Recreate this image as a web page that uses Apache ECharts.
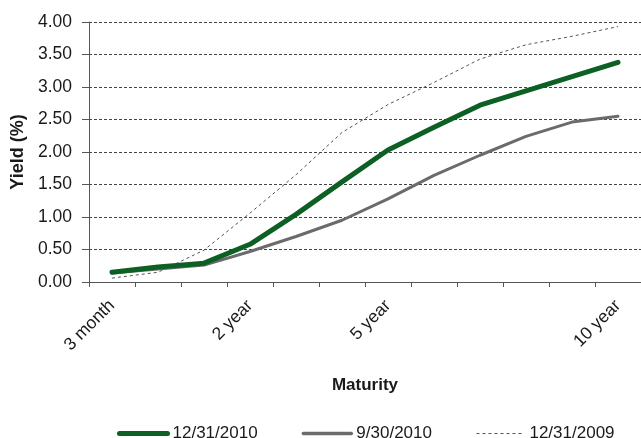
<!DOCTYPE html>
<html>
<head>
<meta charset="utf-8">
<script src="https://cdn.jsdelivr.net/npm/echarts@6/dist/echarts.min.js"></script>
<style>
  html, body { margin: 0; padding: 0; background: #fff; }
  #chart { width: 641px; height: 438px; }
</style>
</head>
<body>
<div id="chart"></div>
<script>
// Treasury maturities along the curve
const maturities = ["3 month", "6 month", "1 year", "2 year", "3 year", "4 year",
                    "5 year", "6 year", "7 year", "8 year", "9 year", "10 year"];
// Maturities that carry a visible axis label
const labelledMaturities = ["3 month", "2 year", "5 year", "10 year"];

// Yields (%) on each date
const yieldsDec2010 = [0.15, 0.23, 0.29, 0.58, 1.04, 1.54, 2.03, 2.38, 2.72, 2.94, 3.16, 3.38];
const yieldsSep2010 = [0.14, 0.20, 0.26, 0.47, 0.70, 0.95, 1.28, 1.64, 1.95, 2.24, 2.46, 2.55];
const yieldsDec2009 = [0.06, 0.15, 0.49, 1.06, 1.65, 2.30, 2.73, 3.07, 3.43, 3.65, 3.78, 3.93];

const yTicks = { min: 0, max: 4, interval: 0.5 };

const FONT = "Liberation Sans, Arial, sans-serif";
const TEXT = "#1a1a1a";

const GREEN = "#0d6024";
const GREY = "#6b6b6b";
const DOTTED = "#555555";

const chart = echarts.init(document.getElementById("chart"), null, { renderer: "canvas" });

chart.setOption({
  animation: false,
  backgroundColor: "#ffffff",
  textStyle: { fontFamily: FONT, color: TEXT },
  grid: { left: 89, top: 22, right: -9, bottom: 156, containLabel: false },
  legend: {
    left: 112,
    top: 420,
    itemWidth: 48,
    itemHeight: 14,
    itemGap: 44,
    textStyle: { fontFamily: FONT, fontSize: 17, color: TEXT },
    data: [
      { name: "12/31/2010", itemStyle: { opacity: 0 }, lineStyle: { width: 5, color: GREEN, cap: "round" } },
      { name: "9/30/2010", itemStyle: { opacity: 0 }, lineStyle: { width: 3.5, color: GREY, cap: "round" } },
      { name: "12/31/2009", itemStyle: { opacity: 0 }, lineStyle: { width: 1, color: DOTTED, type: [3, 3] } }
    ]
  },
  xAxis: {
    type: "category",
    data: maturities,
    boundaryGap: true,
    name: "Maturity",
    nameLocation: "middle",
    nameGap: 95,
    nameTextStyle: { fontFamily: FONT, fontSize: 17, fontWeight: "bold", color: TEXT },
    axisLine: { lineStyle: { color: "#555", width: 1 } },
    axisTick: { show: true, length: 5, interval: 0, lineStyle: { color: "#555" } },
    axisLabel: {
      interval: (i, name) => labelledMaturities.includes(name),
      rotate: 45,
      margin: 21,
      fontFamily: FONT,
      fontSize: 17.5,
      color: TEXT
    },
    splitLine: { show: false }
  },
  yAxis: {
    type: "value",
    min: yTicks.min,
    max: yTicks.max,
    interval: yTicks.interval,
    name: "Yield (%)",
    nameLocation: "middle",
    nameGap: 58,
    nameRotate: 90,
    nameTextStyle: { fontFamily: FONT, fontSize: 18, fontWeight: "bold", color: TEXT },
    axisLine: { show: true, lineStyle: { color: "#555", width: 1 } },
    axisTick: { show: true, length: 7, lineStyle: { color: "#555" } },
    axisLabel: {
      margin: 17,
      fontFamily: FONT,
      fontSize: 17.5,
      color: TEXT,
      formatter: v => v.toFixed(2)
    },
    splitLine: { show: true, lineStyle: { color: "#444", width: 1, type: [3, 2] } }
  },
  series: [
    {
      name: "12/31/2010",
      type: "line",
      data: yieldsDec2010,
      symbol: "none",
      z: 3,
      lineStyle: { color: GREEN, width: 5, cap: "round", join: "round" },
      itemStyle: { color: GREEN }
    },
    {
      name: "9/30/2010",
      type: "line",
      data: yieldsSep2010,
      symbol: "none",
      z: 2,
      lineStyle: { color: GREY, width: 3, cap: "round", join: "round" },
      itemStyle: { color: GREY }
    },
    {
      name: "12/31/2009",
      type: "line",
      data: yieldsDec2009,
      symbol: "none",
      z: 1,
      lineStyle: { color: DOTTED, width: 1, type: [3, 3] },
      itemStyle: { color: DOTTED }
    }
  ]
});
</script>
</body>
</html>
